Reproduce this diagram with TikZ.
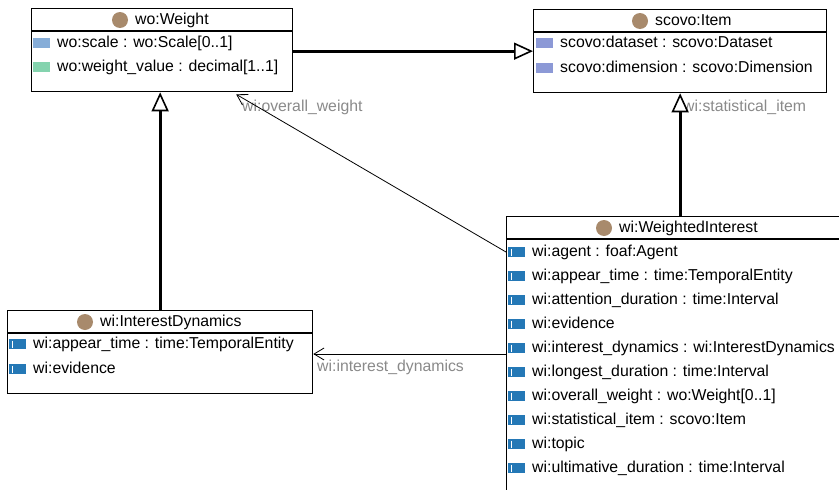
\documentclass[tikz,border=0pt]{standalone}
\usepackage{fontspec}
\setmainfont{Liberation Sans}
\usetikzlibrary{arrows.meta,positioning}
\definecolor{clsdot}{HTML}{A88A6C}
\definecolor{attrblue}{HTML}{2478B6}
\definecolor{scaleblue}{HTML}{86ADD8}
\definecolor{valgreen}{HTML}{84D3AE}
\definecolor{scovoblue}{HTML}{8C99D6}
\definecolor{linkgray}{HTML}{8A8A8A}
\tikzset{
  classbox/.style={draw,line width=1.3pt,anchor=north west,inner sep=0pt,fill=white},
  classname/.style={inner sep=0pt,anchor=west,text height=11.5pt,text depth=3.5pt},
  attr/.style={inner sep=0pt,anchor=west,text height=11.5pt,text depth=3.5pt},
  linklabel/.style={text=linkgray,inner sep=0pt,anchor=west,text height=11.5pt,text depth=3.5pt},
  isa/.style={line width=3pt,-{Triangle[length=19pt,width=17pt,line width=1.6pt,fill=white]}},
  link/.style={line width=0.8pt,-{Straight Barb[length=10pt,width=12pt]}},
}
% class dot left of a title, coloured box left of an attribute
\newcommand\classdot[1]{\fill[clsdot] ([xshift=-15pt]#1.west) circle (8pt);}
\newcommand\propicon[2]{\fill[#2] ([xshift=-24pt,yshift=5pt]#1.west) rectangle ++(17pt,-10pt);}
\newcommand\wiicon[1]{\propicon{#1}{attrblue}
  \draw[white,line width=1.2pt] ([xshift=-20.5pt,yshift=3.5pt]#1.west) -- ++(0,-7pt);}
\begin{document}
\begin{tikzpicture}[x=1pt,y=-1pt,font=\fontsize{15.8}{19}\selectfont]
  \useasboundingbox[fill=white] (0,0) rectangle (839,490);
  % classes
  \node[classbox,minimum width=261pt,minimum height=83pt] (weight) at (31,8) {};
  \node[classbox,minimum width=293pt,minimum height=83pt] (item) at (533,9) {};
  \node[classbox,minimum width=305pt,minimum height=83pt] (dyn) at (7,310) {};
  \node[classbox,minimum width=342pt,minimum height=300pt] (wint) at (506,216) {};
  \foreach \c in {weight,item,dyn,wint}
    \draw[line width=1.3pt] ([yshift=-23pt]\c.north west) -- ([yshift=-23pt]\c.north east);

  \node[classname] (wname) at (135,20) {wo:Weight};
  \node[classname] (iname) at (655,21) {scovo:Item};
  \node[classname] (dname) at (100,322) {wi:InterestDynamics};
  \node[classname] (winame) at (619,228) {wi:WeightedInterest};
  \foreach \c in {wname,iname,dname,winame} {\classdot{\c}}

  % attributes
  \node[attr] (w1) at (57,43) {wo:scale : wo:Scale[0..1]};
  \node[attr] (w2) at (57,67) {wo:weight\_value : decimal[1..1]};
  \propicon{w1}{scaleblue}
  \propicon{w2}{valgreen}
  \node[attr] (i1) at (560,43) {scovo:dataset : scovo:Dataset};
  \node[attr] (i2) at (560,68) {scovo:dimension : scovo:Dimension};
  \propicon{i1}{scovoblue}
  \propicon{i2}{scovoblue}
  \node[attr] (d1) at (33,344) {wi:appear\_time : time:TemporalEntity};
  \node[attr] (d2) at (33,369) {wi:evidence};
  \wiicon{d1}
  \wiicon{d2}
  \foreach \t [count=\k] in {wi:agent : foaf:Agent,
      wi:appear\_time : time:TemporalEntity,
      wi:attention\_duration : time:Interval,
      wi:evidence,
      wi:interest\_dynamics : wi:InterestDynamics,
      wi:longest\_duration : time:Interval,
      wi:overall\_weight : wo:Weight[0..1],
      wi:statistical\_item : scovo:Item,
      wi:topic,
      wi:ultimative\_duration : time:Interval} {
    \node[attr] (r\k) at (532,228+24*\k) {\t};
    \wiicon{r\k}
  }

  % links
  \node[linklabel] (lweight) at (242,107) {wi:overall\_weight};
  \node[linklabel] (litem) at (683,107) {wi:statistical\_item};
  \node[linklabel] (ldyn) at (317,367) {wi:interest\_dynamics};
  \draw[isa] (weight.east |- item.west) -- (item.west);
  \draw[isa] (dyn.north) -- (dyn.north |- weight.south);
  \draw[isa] (item.south |- wint.north) -- (item.south);
  \draw[link] (r1.west -| wint.west) -- ([shift={(74pt,-2pt)}]weight.south);
  \draw[link] ([yshift=-6pt]r5.west -| wint.west) -- ([yshift=-6pt]r5.west -| dyn.east);
\end{tikzpicture}
\end{document}
